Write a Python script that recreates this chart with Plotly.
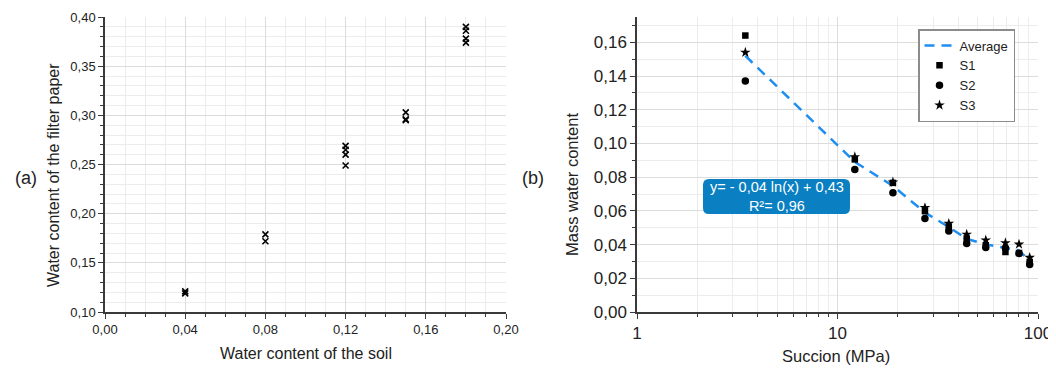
import plotly.graph_objects as go

# Page body has an 8px default margin, so the figure is offset by 8px.
OFF = 8
W, H = 1048, 361

# ---- Panel (a) data ----
soil_x = [0.04, 0.04, 0.08, 0.08, 0.12, 0.12, 0.12, 0.12, 0.15, 0.15, 0.15, 0.18, 0.18, 0.18, 0.18]
paper_y = [0.121, 0.119, 0.179, 0.172, 0.269, 0.265, 0.260, 0.249, 0.303, 0.296, 0.295, 0.390, 0.386, 0.378, 0.374]

# ---- Panel (b) data ----
succion = [3.47, 12.2, 18.9, 27.3, 35.9, 44.1, 54.9, 68.8, 80.4, 90.9]
s1 = [0.164, 0.0905, 0.0766, 0.0598, 0.0505, 0.0436, 0.0396, 0.0356, 0.0350, 0.0297]
s2 = [0.137, 0.0846, 0.0707, 0.0555, 0.0481, 0.0406, 0.0382, 0.0380, 0.0347, 0.0282]
s3 = [0.154, 0.0920, 0.0770, 0.0618, 0.0525, 0.0460, 0.0426, 0.0410, 0.0402, 0.0323]
average = [0.152, 0.0890, 0.0748, 0.0590, 0.0504, 0.0434, 0.0401, 0.0382, 0.0366, 0.0301]

left_x_ticks = [0.00, 0.04, 0.08, 0.12, 0.16, 0.20]
left_y_ticks = [0.10, 0.15, 0.20, 0.25, 0.30, 0.35, 0.40]
right_x_ticks = [1, 10, 100]
right_x_minor = [2, 3, 4, 5, 6, 7, 8, 9, 20, 30, 40, 50, 60, 70, 80, 90]
right_y_ticks = [0.00, 0.02, 0.04, 0.06, 0.08, 0.10, 0.12, 0.14, 0.16]

FONT = "Liberation Sans, Arial, sans-serif"
AX = "#3a3a3a"
GRID_MAJ = "#dcdcdc"
GRID_MIN = "#ececec"
BLUE = "#1f8ef1"


def px(x):
    return (x - OFF) / W


def py(y):
    return 1 - (y - OFF) / H


fig = go.Figure()

fig.add_trace(go.Scatter(
    x=soil_x, y=paper_y, mode="markers", xaxis="x", yaxis="y", showlegend=False,
    marker=dict(symbol="x-thin-open", size=6, color="black", line=dict(width=1.6, color="black")),
))

fig.add_trace(go.Scatter(
    x=succion, y=average, mode="lines", name="Average", xaxis="x2", yaxis="y2",
    line=dict(color=BLUE, width=2.5, dash="10px,7px"),
))
fig.add_trace(go.Scatter(
    x=succion, y=s1, mode="markers", name="S1", xaxis="x2", yaxis="y2",
    marker=dict(symbol="square", size=6.5, color="black"),
))
fig.add_trace(go.Scatter(
    x=succion, y=s2, mode="markers", name="S2", xaxis="x2", yaxis="y2",
    marker=dict(symbol="circle", size=7.5, color="black"),
))
fig.add_trace(go.Scatter(
    x=succion, y=s3, mode="markers", name="S3", xaxis="x2", yaxis="y2",
    marker=dict(symbol="star", size=8, color="black"),
))

common_axis = dict(
    showline=True, linecolor=AX, linewidth=1.5, ticks="outside", ticklen=5,
    tickwidth=1.3, tickcolor=AX, showgrid=True, gridcolor=GRID_MAJ, gridwidth=1,
    zeroline=False, mirror=False, automargin=False,
)

fig.update_layout(
    width=W, height=H, autosize=False,
    margin=dict(l=0, r=0, t=0, b=0, autoexpand=False),
    paper_bgcolor="white", plot_bgcolor="white",
    separators=", ",
    font=dict(family=FONT, color="#222222"),
    xaxis=dict(
        **common_axis, domain=[px(105), px(506)], anchor="y", range=[0, 0.20],
        tickmode="array", tickvals=left_x_ticks, tickformat=".2f",
        tickfont=dict(size=13),
        minor=dict(dtick=0.01, tick0=0, ticks="outside", ticklen=3, tickcolor=AX,
                   showgrid=True, gridcolor=GRID_MIN, gridwidth=1),
    ),
    yaxis=dict(
        **common_axis, domain=[py(312), py(17)], anchor="x", range=[0.10, 0.40],
        tickmode="array", tickvals=left_y_ticks, tickformat=".2f",
        tickfont=dict(size=13),
        minor=dict(dtick=0.01, tick0=0.10, ticks="outside", ticklen=3, tickcolor=AX,
                   showgrid=True, gridcolor=GRID_MIN, gridwidth=1),
    ),
    xaxis2=dict(
        **common_axis, domain=[px(637), px(1038)], anchor="y2", type="log", range=[0, 2],
        tickmode="array", tickvals=right_x_ticks, ticktext=["1", "10", "100"],
        tickfont=dict(size=17),
        minor=dict(tickmode="array", tickvals=right_x_minor, ticks="outside", ticklen=3,
                   tickcolor=AX, showgrid=True, gridcolor=GRID_MIN, gridwidth=1),
    ),
    yaxis2=dict(
        **common_axis, domain=[py(312), py(17)], anchor="x2", range=[0, 0.175],
        tickmode="array", tickvals=right_y_ticks, tickformat=".2f",
        tickfont=dict(size=17),
        minor=dict(dtick=0.01, tick0=0, ticks="outside", ticklen=3, tickcolor=AX,
                   showgrid=True, gridcolor=GRID_MIN, gridwidth=1),
    ),
    legend=dict(
        x=px(918), y=py(29), xanchor="left", yanchor="top",
        bordercolor="#8c8c8c", borderwidth=1.5, bgcolor="white",
        font=dict(size=13, family=FONT, color="#222222"),
        tracegroupgap=0, itemwidth=30,
    ),
)

# Rounded box behind the regression equation
x0, x1, y0, y1, r = 703, 850, 179, 214, 6
path = (
    f"M {px(x0 + r)},{py(y0)} L {px(x1 - r)},{py(y0)} "
    f"Q {px(x1)},{py(y0)} {px(x1)},{py(y0 + r)} "
    f"L {px(x1)},{py(y1 - r)} Q {px(x1)},{py(y1)} {px(x1 - r)},{py(y1)} "
    f"L {px(x0 + r)},{py(y1)} Q {px(x0)},{py(y1)} {px(x0)},{py(y1 - r)} "
    f"L {px(x0)},{py(y0 + r)} Q {px(x0)},{py(y0)} {px(x0 + r)},{py(y0)} Z"
)
fig.add_shape(type="path", path=path, xref="paper", yref="paper",
              fillcolor="#0a7fc1", line=dict(width=0), layer="above")

annotations = [
    dict(text="y= - 0,04 ln(x) + 0,43<br>R²= 0,96", x=px(776.5), y=py(196.5),
         font=dict(size=14.5, color="white")),
    dict(text="(a)", x=px(26), y=py(178), font=dict(size=18)),
    dict(text="(b)", x=px(533), y=py(178), font=dict(size=18)),
    dict(text="Water content of the filter paper", x=px(53), y=py(175), textangle=-90,
         font=dict(size=16)),
    dict(text="Water content of the soil", x=px(306), y=py(353), font=dict(size=16)),
    dict(text="Mass water content", x=px(572), y=py(185), textangle=-90, font=dict(size=16.5)),
    dict(text="Succion (MPa)", x=px(836), y=py(356), font=dict(size=16.5)),
]
for a in annotations:
    a.setdefault("xref", "paper")
    a.setdefault("yref", "paper")
    a["showarrow"] = False
    a["xanchor"] = "center"
    a["yanchor"] = "middle"
    a["font"].setdefault("family", FONT)
    a["font"].setdefault("color", "#222222")
    fig.add_annotation(**a)

fig.write_html("out.html")
